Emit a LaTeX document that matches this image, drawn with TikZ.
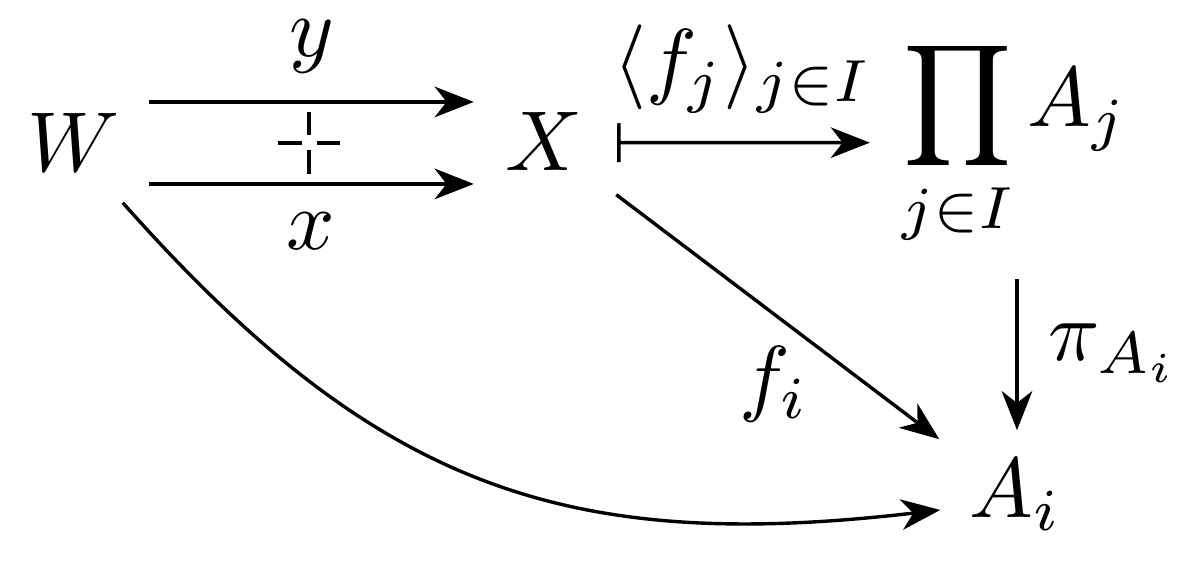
\documentclass[tikz,border=0pt]{standalone}
\usetikzlibrary{calc,arrows.meta}
\begin{document}
\begin{tikzpicture}[x=0.11765pt,y=-0.11765pt,
  >={Stealth[length=4.6pt,width=3.6pt,inset=1.4pt]},
  line width=0.4pt,
  obj/.style={inner sep=0pt, anchor=base},
  lbl/.style={inner sep=0pt, anchor=base},
  crossline/.style={line width=0.5pt}]
\useasboundingbox (0,0) rectangle (1203,568);
% objects
\node[obj] (W) at (74,172) {$W$};
\node[obj] (X) at (544,171) {$X$};
\node[obj] (P) at (1014.5,127) {$\displaystyle\prod_{j\in I}A_j$};
\node[obj] (Ai) at (1016,518) {$A_i$};
% labels
\node[lbl] (ly) at (312,57) {$y$};
\node[lbl] (lx) at (311,250) {$x$};
\node[lbl] (lf) at (743,89) {$\langle f_j\rangle_{j\in I}$};
\node[lbl] (lfi) at (774,406) {$f_i$};
\node[lbl, anchor=base west] (lpi) at (1047,361) {$\pi_{A_i}$};
% parallel arrows
\draw[->] ($(W.east)+(27,-41)$) -- ($(X.west)+(-30,-40)$);
\draw[->] ($(W.east)+(27,41)$) -- ($(X.west)+(-30,42)$);
% cross symbol
\coordinate (C) at (309,142.7);
\draw[crossline] ($(C)+(0,-7.5)$) -- ($(C)+(0,-31)$);
\draw[crossline] ($(C)+(0,7.5)$) -- ($(C)+(0,31)$);
\draw[crossline] ($(C)+(-7.5,0)$) -- ($(C)+(-31,0)$);
\draw[crossline] ($(C)+(7.5,0)$) -- ($(C)+(31,0)$);
% mapsto arrow
\draw[{Bar[width=4.6pt]}->] ($(X.east)+(33,0.7)$) -- ($(P.base west)+(-30,15.7)$);
% diagonal
\draw[->] ($(X.south east)+(32,22)$) -- ($(Ai.north west)+(-29,-19)$);
% vertical
\draw[->] ($(P.south)+(2.5,29)$) -- ($(Ai.north)+(1,-28)$);
% curve
\coordinate (cs) at ($(W.south east)+(1,29)$);
\coordinate (ce) at ($(Ai.base west)+(-28,-8)$);
\draw[->] (cs) .. controls ($(cs)+(252,284)$) and ($(ce)+(-377,44)$) .. (ce);
\end{tikzpicture}
\end{document}
